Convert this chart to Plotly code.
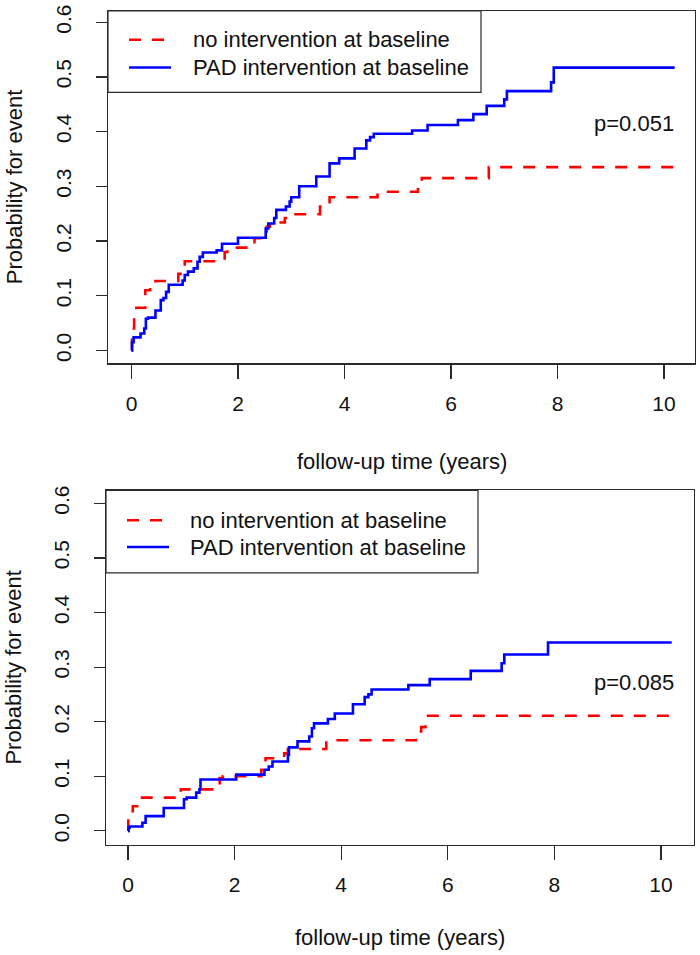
import plotly.graph_objects as go

# ---------------- data ----------------
# Panel 1 - "no intervention at baseline"
top_none_t = [0, 0.01, 0.02, 0.05, 0.09, 0.26, 0.35, 0.45, 0.88, 0.92, 1.0, 1.75, 1.8, 2.31, 2.54,
              2.6, 2.88, 2.95, 3.54, 3.72, 4.62, 5.38, 5.45, 6.71, 10.2]
top_none_p = [0, 0.02, 0.04, 0.06, 0.078, 0.11, 0.12, 0.127, 0.14, 0.15, 0.163, 0.18, 0.188, 0.205, 0.226,
              0.234, 0.242, 0.249, 0.263, 0.28, 0.29, 0.30, 0.315, 0.335, 0.335]
# Panel 1 - "PAD intervention at baseline"
top_pad_t = [0, 0.01, 0.04, 0.17, 0.24, 0.27, 0.31, 0.45, 0.55, 0.60, 0.65, 0.70, 0.96, 1.0, 1.06,
             1.17, 1.24, 1.28, 1.34, 1.60, 1.70, 2.0, 2.52, 2.57, 2.68, 2.72, 2.90, 2.97, 3.0, 3.15,
             3.47, 3.72, 3.9, 4.19, 4.41, 4.48, 4.55, 5.27, 5.56, 6.13, 6.42, 6.67, 7.0, 7.05, 7.88,
             7.93, 10.2]
top_pad_p = [0, 0.015, 0.024, 0.031, 0.04, 0.058, 0.06, 0.073, 0.092, 0.096, 0.107, 0.12, 0.128, 0.138, 0.144,
             0.15, 0.162, 0.171, 0.179, 0.183, 0.195, 0.206, 0.223, 0.232, 0.242, 0.257, 0.263, 0.272, 0.28, 0.30,
             0.318, 0.342, 0.351, 0.369, 0.384, 0.39, 0.396, 0.402, 0.412, 0.421, 0.432, 0.447, 0.459, 0.474, 0.49,
             0.517, 0.517]
# Panel 2 - "no intervention at baseline"
bot_none_t = [0, 0.005, 0.09, 0.17, 0.99, 1.72, 1.78, 2.5, 2.58, 2.93, 3.0, 3.72, 5.4, 5.5, 5.58, 10.2]
bot_none_p = [0, 0.036, 0.045, 0.061, 0.076, 0.097, 0.10, 0.112, 0.133, 0.142, 0.15, 0.166, 0.182, 0.19,
              0.211, 0.211]
# Panel 2 - "PAD intervention at baseline"
bot_pad_t = [0, 0.01, 0.03, 0.27, 0.33, 0.67, 1.05, 1.10, 1.28, 1.34, 1.36, 2.03, 2.56, 2.64, 2.71, 3.0,
             3.02, 3.18, 3.4, 3.45, 3.49, 3.75, 3.88, 4.22, 4.44, 4.51, 4.57, 5.26, 5.66, 6.43, 7.01, 7.06,
             7.88, 10.2]
bot_pad_p = [0, 0.006, 0.008, 0.015, 0.027, 0.042, 0.058, 0.061, 0.07, 0.076, 0.094, 0.103, 0.112, 0.118,
             0.127, 0.139, 0.153, 0.164, 0.173, 0.188, 0.197, 0.205, 0.215, 0.232, 0.245, 0.25, 0.259, 0.267,
             0.278, 0.293, 0.307, 0.323, 0.345, 0.345]

series_names = ["no intervention at baseline", "PAD intervention at baseline"]
p_values = ["p=0.051", "p=0.085"]
x_ticks = [0, 2, 4, 6, 8, 10]
y_ticks = [0.0, 0.1, 0.2, 0.3, 0.4, 0.5, 0.6]
y_tick_text = ["0.0", "0.1", "0.2", "0.3", "0.4", "0.5", "0.6"]
x_title = "follow-up time (years)"
y_title = "Probability for event"

# ---------------- styling ----------------
W, H = 700, 955
RED = "#FF0000"
BLUE = "#0000FF"
AX = "#2b2b2b"
TXT = "#111111"
FONT = "Arial, Liberation Sans, sans-serif"
DASH = "12px,11px"
LW = 2.6


def px(x):
    return x / W


def py(y):
    return 1 - y / H


fig = go.Figure()

panels = [
    dict(xa="x", ya="y", none=(top_none_t, top_none_p), pad=(top_pad_t, top_pad_p)),
    dict(xa="x2", ya="y2", none=(bot_none_t, bot_none_p), pad=(bot_pad_t, bot_pad_p)),
]
for pn in panels:
    fig.add_trace(go.Scatter(x=pn["none"][0], y=pn["none"][1], mode="lines",
                             line=dict(color=RED, width=LW, dash=DASH, shape="hv"),
                             xaxis=pn["xa"], yaxis=pn["ya"], showlegend=False,
                             name=series_names[0]))
    fig.add_trace(go.Scatter(x=pn["pad"][0], y=pn["pad"][1], mode="lines",
                             line=dict(color=BLUE, width=LW, shape="hv"),
                             xaxis=pn["xa"], yaxis=pn["ya"], showlegend=False,
                             name=series_names[1]))

# panel boxes (pixels)
boxes = [
    dict(l=108, r=695, t=4, b=359, xr=[-0.441, 10.582], yr=[-0.0236, 0.6205]),
    dict(l=106, r=694, t=487, b=844, xr=[-0.413, 10.619], yr=[-0.0255, 0.6236]),
]

common_x = dict(tickmode="array", tickvals=x_ticks, ticks="outside", ticklen=14, tickwidth=1.2,
                tickcolor=AX, showline=True, linecolor=AX, linewidth=1.2, mirror=True,
                showgrid=False, zeroline=False, tickfont=dict(family=FONT, size=21, color=TXT),
                ticklabelstandoff=7)
common_y = dict(tickmode="array", tickvals=y_ticks, ticktext=y_tick_text, ticks="outside", ticklen=11,
                tickwidth=1.2, tickcolor=AX, showline=True, linecolor=AX, linewidth=1.2, mirror=True,
                showgrid=False, zeroline=False, tickangle=-90,
                tickfont=dict(family=FONT, size=21, color=TXT), ticklabelstandoff=16)

fig.update_layout(
    xaxis=dict(domain=[px(boxes[0]["l"]), px(boxes[0]["r"])], range=boxes[0]["xr"], anchor="y", **common_x),
    yaxis=dict(domain=[py(boxes[0]["b"]), py(boxes[0]["t"])], range=boxes[0]["yr"], anchor="x", **common_y),
    xaxis2=dict(domain=[px(boxes[1]["l"]), px(boxes[1]["r"])], range=boxes[1]["xr"], anchor="y2", **common_x),
    yaxis2=dict(domain=[py(boxes[1]["b"]), py(boxes[1]["t"])], range=boxes[1]["yr"], anchor="x2", **common_y),
)

shapes = []
annotations = []

legends = [
    dict(l=108, r=481, t=4, b=86, rows=[33, 61], line_x=[129, 168], text_x=191),
    dict(l=106, r=478, t=487, b=570, rows=[517, 544], line_x=[127, 166], text_x=188),
]
for lg in legends:
    shapes.append(dict(type="rect", xref="paper", yref="paper", x0=px(lg["l"]), x1=px(lg["r"]),
                       y0=py(lg["b"]), y1=py(lg["t"]), line=dict(color=AX, width=1.2),
                       fillcolor="white", layer="above"))
    shapes.append(dict(type="line", xref="paper", yref="paper", x0=px(lg["line_x"][0]), x1=px(lg["line_x"][1]),
                       y0=py(lg["rows"][0]), y1=py(lg["rows"][0]),
                       line=dict(color=RED, width=LW, dash=DASH), layer="above"))
    shapes.append(dict(type="line", xref="paper", yref="paper", x0=px(lg["line_x"][0]), x1=px(lg["line_x"][1] + 3),
                       y0=py(lg["rows"][1]), y1=py(lg["rows"][1]),
                       line=dict(color=BLUE, width=LW), layer="above"))
    for name, ry in zip(series_names, lg["rows"]):
        annotations.append(dict(xref="paper", yref="paper", x=px(lg["text_x"]), y=py(ry), text=name,
                                showarrow=False, xanchor="left", yanchor="middle",
                                font=dict(family=FONT, size=22, color=TXT)))

# p-values
for txt, cy in zip(p_values, [117, 680]):
    annotations.append(dict(xref="paper", yref="paper", x=px(676), y=py(cy), text=txt, showarrow=False,
                            xanchor="right", yanchor="middle", font=dict(family=FONT, size=22, color=TXT)))

# axis titles
for bx, ty in zip(boxes, [458, 937]):
    annotations.append(dict(xref="paper", yref="paper", x=px((bx["l"] + bx["r"]) / 2), y=py(ty),
                            text=x_title, showarrow=False, xanchor="center", yanchor="middle",
                            font=dict(family=FONT, size=22, color=TXT)))
    annotations.append(dict(xref="paper", yref="paper", x=px(14), y=py((bx["t"] + bx["b"]) / 2),
                            text=y_title, showarrow=False, xanchor="center", yanchor="middle",
                            textangle=-90, font=dict(family=FONT, size=22, color=TXT)))

fig.update_layout(
    width=W, height=H,
    margin=dict(l=0, r=0, t=0, b=0),
    paper_bgcolor="white", plot_bgcolor="white",
    shapes=shapes, annotations=annotations,
    showlegend=False,
)

fig.write_html("out.html", config={"displayModeBar": False, "staticPlot": True},
               post_script="document.body.style.margin='0';document.body.style.padding='0';")
